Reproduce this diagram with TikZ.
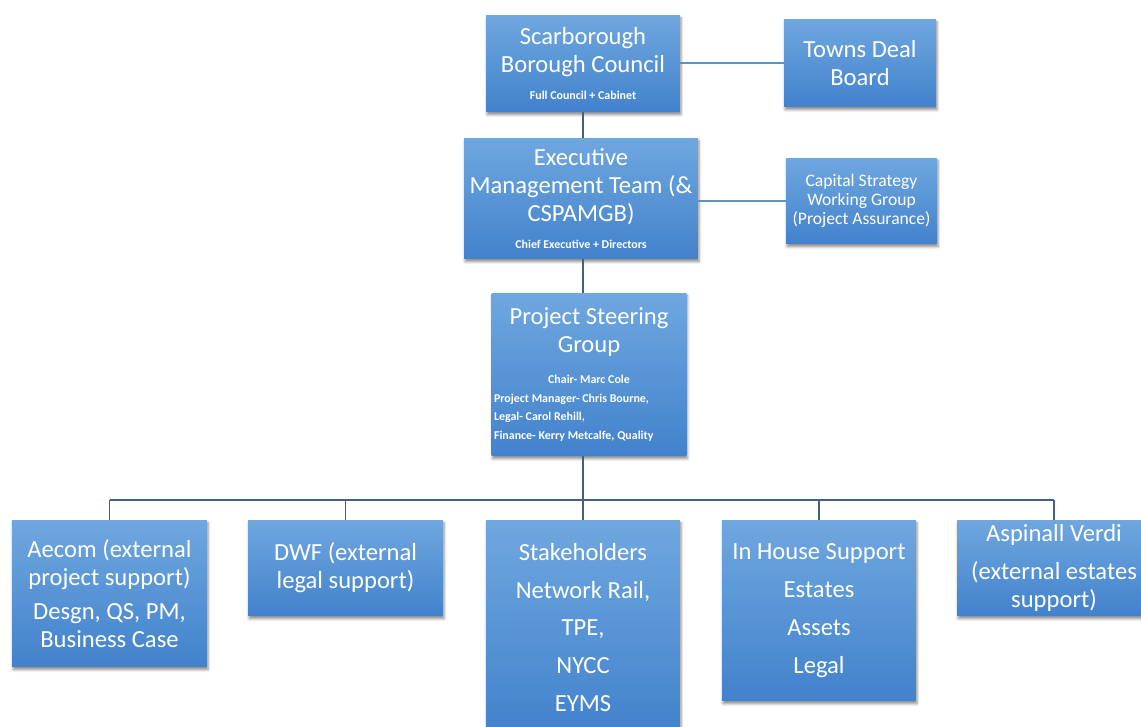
\documentclass[tikz,border=0pt]{standalone}
\usepackage{fontspec}
\setmainfont{Carlito}
\usepackage{tikz}
\usetikzlibrary{positioning,shadows.blur,calc}

\definecolor{boxtop}{HTML}{6FA7DF}
\definecolor{boxbot}{HTML}{4282CC}
\definecolor{linkdark}{HTML}{41617F}
\definecolor{linkblue}{HTML}{5E90C9}

\newcommand{\bigtxt}{\fontsize{14}{16}\selectfont}
\newcommand{\midtxt}{\fontsize{10}{10.8}\selectfont}
\newcommand{\smalltxt}{\fontsize{6.8}{10.5}\selectfont\bfseries}

\begin{document}
\begin{tikzpicture}[x=0.02cm, y=-0.02cm,
    unit/.style={rectangle, top color=boxtop, bottom color=boxbot,
      text=white, font=\bigtxt, align=center, inner sep=2pt,
      blur shadow={shadow xshift=0.6pt, shadow yshift=-1.6pt,
        shadow blur radius=1.5pt, shadow opacity=45}},
    spine/.style={draw=linkdark, line width=0.8pt},
    branch/.style={draw=linkblue, line width=0.8pt}]

    \useasboundingbox (0,0) rectangle (1141,726);
    \clip (0,0) rectangle (1141,726);

    % top level
    \node[unit, minimum width=3.88cm, minimum height=1.94cm] (sbc) at (583,63.5)
    {Scarborough\\ Borough Council\\[-0.7pt] \smalltxt Full Council + Cabinet};
    \node[unit, minimum width=3.04cm, minimum height=1.76cm] (tdb) at (860,63)
    {Towns Deal\\ Board};

    % management
    \node[unit, minimum width=4.68cm, minimum height=2.42cm] (emt) at (581,198.5)
    {Executive\\ Management Team (\&\\ CSPAMGB)\\[-0.7pt] \smalltxt Chief Executive + Directors};
    \node[unit, font=\midtxt, minimum width=3.02cm, minimum height=1.72cm] (cswg) at (861.5,201)
    {Capital Strategy\\ Working Group\\ (Project Assurance)};

    % steering group
    \node[unit, inner xsep=1pt, minimum width=3.9cm, minimum height=3.26cm] (psg) at (589,374.5)
    {Project Steering\\ Group\\[1.6pt]
     \smalltxt Chair- Marc Cole\\[-5.3pt]
     \parbox[t]{3.8cm}{\smalltxt\raggedright Project Manager- Chris Bourne,\\
       Legal- Carol Rehill,\\ Finance- Kerry Metcalfe, Quality}};

    % support row
    \node[unit, minimum width=3.9cm, minimum height=2.94cm] (aecom) at (109.5,593.5)
    {Aecom (external\\ project support)\\[3.5pt] Desgn, QS, PM,\\ Business Case};
    \node[unit, minimum width=3.9cm, minimum height=1.92cm] (dwf) at (345.5,568)
    {DWF (external\\ legal support)};
    \node[unit, minimum width=3.88cm, minimum height=4.3cm] (stake) at (583,627.5)
    {Stakeholders\\[5.5pt] Network Rail,\\[5.5pt] TPE,\\[5.5pt] NYCC\\[5.5pt] EYMS};
    \node[unit, minimum width=3.88cm, minimum height=3.62cm] (inh) at (819,610.5)
    {In House Support\\[5.5pt] Estates\\[5.5pt] Assets\\[5.5pt] Legal};
    \node[unit, minimum width=3.88cm, minimum height=1.92cm] (asp) at (1054,568)
    {Aspinall Verdi\\[5.5pt] (external estates\\ support)};

    % side links
    \draw[branch] (tdb.west) -- (tdb.west -| sbc.east);
    \draw[branch] (cswg.west) -- (cswg.west -| emt.east);

    % main spine
    \coordinate (bus) at (583,500);
    \draw[spine] (sbc.south) -- (sbc.south |- emt.north);
    \draw[spine] (emt.south -| sbc) -- (psg.north -| sbc);
    \draw[spine] (psg.south -| sbc) -- (bus);
    \draw[spine] (aecom.north |- bus) -- (asp.north |- bus);
    \foreach \n in {aecom,dwf,stake,inh,asp}
      \draw[spine] (\n.north) -- (\n.north |- bus);

\end{tikzpicture}
\end{document}
